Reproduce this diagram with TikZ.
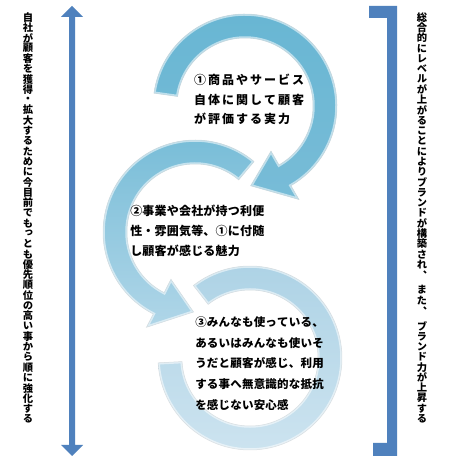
\documentclass[tikz,border=0pt]{standalone}
\usepackage{fontspec}
\newfontfamily\jp{Noto Sans CJK JP}
\newfontfamily\jpv{Noto Sans CJK JP}[RawFeature=+vert]
\makeatletter
\newcommand\vst[3]{\vbox{\offinterlineskip\@tfor\vs@c:=#3\do{\hbox to #2{\hss\vbox to #1{\vss\hbox{\vs@c}\vss}\hss}}}}
\newcommand\hst[2]{\hbox{\@tfor\hs@c:=#2\do{\hbox to #1{\hss\hs@c\hss}}}}
\makeatother
\definecolor{bl}{RGB}{79,129,189}
\definecolor{ra}{RGB}{104,182,211}
\definecolor{rb}{RGB}{120,188,215}
\definecolor{rc}{RGB}{118,188,215}
\definecolor{rd}{RGB}{176,214,232}
\definecolor{re}{RGB}{172,210,229}
\definecolor{rf}{RGB}{206,228,240}
\tikzset{
  rim/.style={draw=white, draw opacity=0.55, line width=3.5pt},
  edge/.style={draw=white!80!black, draw opacity=0.5, line width=0.5pt},
  txt/.style={inner sep=0pt, text=black}
}
\newcommand\paththree{(128:92pt) arc[start angle=128,end angle=-177,radius=92pt] -- (-177:68pt) arc[start angle=-177,end angle=128,radius=68pt] -- cycle}
\newcommand\pathtwo{(50:92pt) arc[start angle=50,end angle=243,radius=92pt] -- (243:107pt) -- (269:80pt) -- (243:53pt) -- (243:68pt) arc[start angle=243,end angle=50,radius=68pt] -- cycle}
\newcommand\pathone{(172:92pt) arc[start angle=172,end angle=-60,radius=92pt] -- (-60:108pt) -- (-86:80pt) -- (-60:52pt) -- (-60:68pt) arc[start angle=-60,end angle=172,radius=68pt] -- cycle}
\begin{document}
\begin{tikzpicture}[x=1pt,y=1pt]
\useasboundingbox (0,0) rectangle (450,461);
\fill[white] (0,0) rectangle (450,461);
% ring 3
\begin{scope}[shift={(250,103)}]
\shade[top color=re,bottom color=rf] \paththree;
\begin{scope}\clip \paththree; \draw[rim] \paththree; \end{scope}
\draw[edge] \paththree;
\end{scope}
% ring 2
\begin{scope}[shift={(195,229)}]
\shade[top color=rc,bottom color=rd] \pathtwo;
\begin{scope}\clip \pathtwo; \draw[rim] \pathtwo; \end{scope}
\draw[edge] \pathtwo;
\end{scope}
% ring 1
\begin{scope}[shift={(245,355)}]
\shade[top color=ra,bottom color=rb] \pathone;
\begin{scope}\clip \pathone; \draw[rim] \pathone; \end{scope}
\draw[edge] \pathone;
\end{scope}
% double arrow
\fill[bl] (72,455) -- (83,444) -- (75,444) -- (75,16) -- (83,16) -- (72,5) -- (61,16) -- (69,16) -- (69,444) -- (61,444) -- cycle;
% bracket
\fill[bl] (369,455) -- (397,455) -- (397,5) -- (373,5) -- (373,18) -- (387,18) -- (387,443) -- (369,443) -- cycle;
% side texts
\node[txt, anchor=north] (lt) at (28,449) {\jpv\bfseries\fontsize{10.3}{10.3}\selectfont\vst{10.3pt}{12pt}{自社が顧客を獲得・拡大するために今目前でもっとも優先順位の高い事から順に強化する}};
\node[txt, anchor=north] (rt) at (422,449) {\jpv\bfseries\fontsize{10.3}{10.3}\selectfont\vbox{\vst{10.3pt}{12pt}{総合的にレベルが上がることによりブランドが構築され、}\vskip4pt\vst{10.3pt}{12pt}{また、}\vskip4pt\vst{10.3pt}{12pt}{ブランド力が上昇する}}};
% ring texts
\node[txt, anchor=base west] (t1) at (193,376.4) {\jp\bfseries\fontsize{12}{12}\selectfont\vtop{\baselineskip=19.5pt\hst{14pt}{①商品やサービス}\hst{14pt}{自体に関して顧客}\hst{14pt}{が評価する実力}}};
\node[txt, anchor=base west] (t2) at (130,245.4) {\jp\bfseries\fontsize{12}{12}\selectfont\vtop{\baselineskip=20pt\hst{12.2pt}{②事業や会社が持つ利便}\hst{12.2pt}{性・雰囲気等、①に付随}\hst{12.2pt}{し顧客が感じる魅力}}};
\node[txt, anchor=base west] (t3) at (195,134.6) {\jp\bfseries\fontsize{11.5}{11.5}\selectfont\vtop{\baselineskip=20.7pt\hst{11.7pt}{③みんなも使っている、}\hst{11.7pt}{あるいはみんなも使いそ}\hst{11.7pt}{うだと顧客が感じ、利用}\hst{11.7pt}{する事へ無意識的な抵抗}\hst{11.7pt}{を感じない安心感}}};
\end{tikzpicture}
\end{document}
